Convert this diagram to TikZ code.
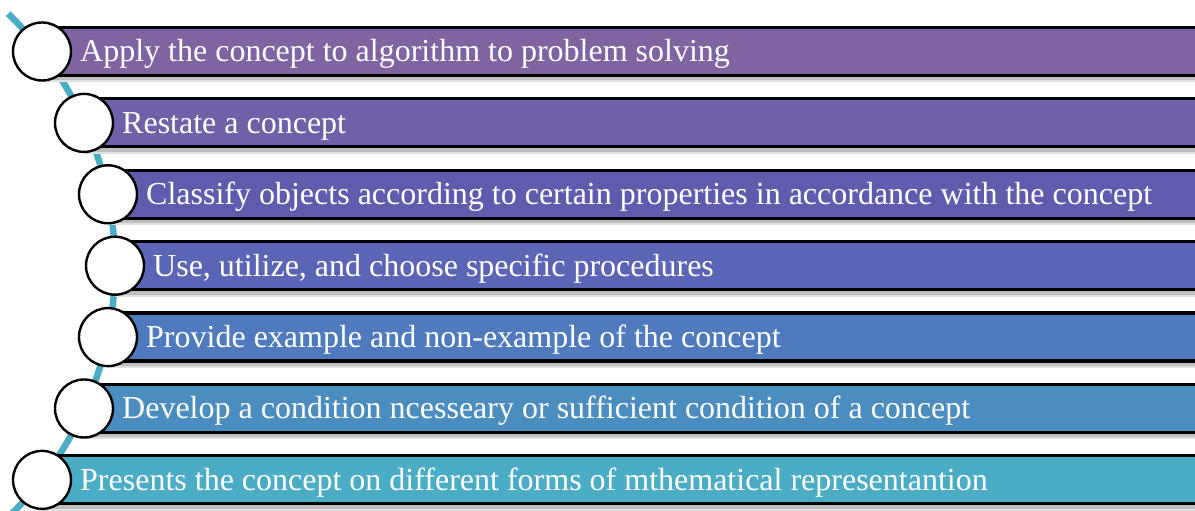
\documentclass[tikz,border=0pt]{standalone}
\usepackage{fontspec}
\setmainfont{Liberation Serif}
\definecolor{arcteal}{HTML}{4BACC6}
\definecolor{c1}{HTML}{8064A2}
\definecolor{c2}{HTML}{7060A8}
\definecolor{c3}{HTML}{605CAD}
\definecolor{c4}{HTML}{5A65B5}
\definecolor{c5}{HTML}{4F7BBE}
\definecolor{c6}{HTML}{4C8DC0}
\definecolor{c7}{HTML}{4BACC6}
\tikzset{
  barbox/.style={draw=black, line width=3.2pt, minimum height=47.5pt, inner sep=0pt},
  dot/.style={circle, draw=black, fill=white, line width=2.4pt, minimum size=58pt, inner sep=0pt},
  label/.style={anchor=base west, text=white, font=\fontsize{32}{36}\selectfont, inner sep=0pt},
}
\begin{document}
\begin{tikzpicture}[x=1pt,y=1pt]
\useasboundingbox (0,0) rectangle (1195,511);
\clip (0,0) rectangle (1195,511);
% arc
\draw[arcteal, line width=6.5pt] (-235,245.5) ++(46:350) arc[start angle=46, end angle=-47, radius=350];
\foreach \i/\cx/\col/\txt in {
  0/42/c1/{Apply the concept to algorithm to problem solving},
  1/84/c2/{Restate a concept},
  2/108/c3/{Classify objects according to certain properties in accordance with the concept},
  3/115/c4/{Use, utilize, and choose specific procedures},
  4/108/c5/{Provide example and non-example of the concept},
  5/84/c6/{Develop a condition ncesseary or sufficient condition of a concept},
  6/42/c7/{Presents the concept on different forms of mthematical representantion}}
{
  \pgfmathsetmacro{\cy}{459.5-71.4*\i}
  \fill[black!25] (\cx,\cy-29) rectangle (1200,\cy-25);
  \fill[black!12] (\cx,\cy-31) rectangle (1200,\cy-29);
  \path[barbox, fill=\col] (\cx,\cy-24) rectangle (1205,\cy+24);
  \node[dot] (d\i) at (\cx,\cy) {};
  \node[label] (t\i) at (\cx+38,\cy-10.5) {\txt};
}
\end{tikzpicture}
\end{document}
